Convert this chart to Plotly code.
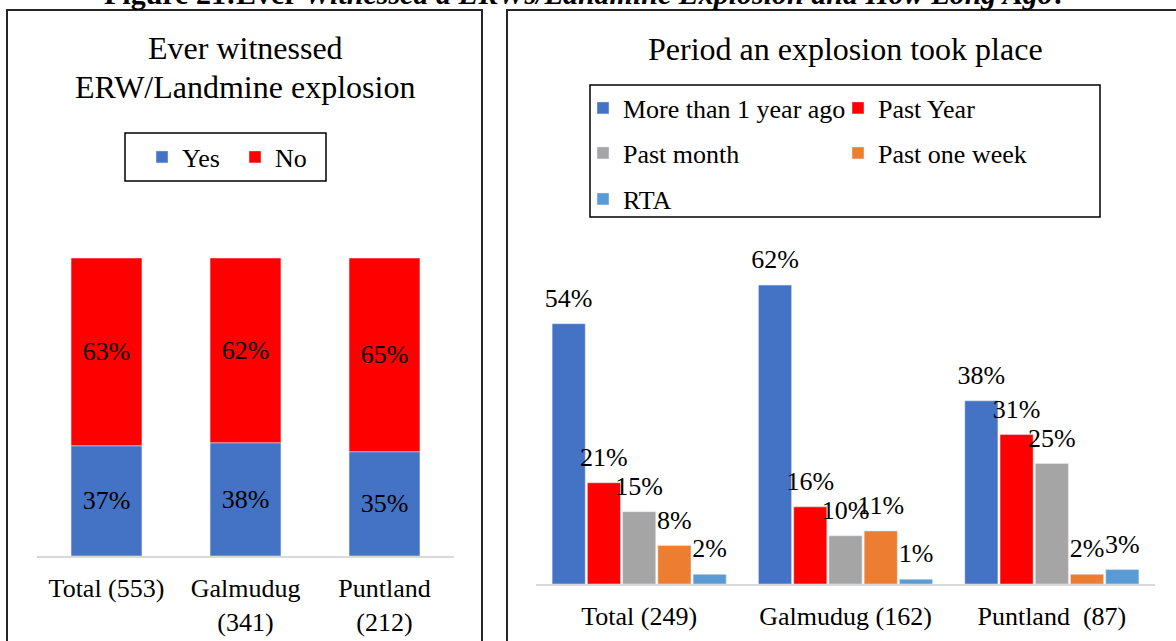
import plotly.graph_objects as go

FONT = "Liberation Serif"

# ---- data ----
left_categories = ["Total (553)", "Galmudug<br>(341)", "Puntland<br>(212)"]
yes_pct = [37, 38, 35]
no_pct = [63, 62, 65]

right_categories = ["Total (249)", "Galmudug (162)", "Puntland\u00a0 (87)"]
more_than_1_year = [54, 62, 38]
past_year = [21, 16, 31]
past_month = [15, 10, 25]
past_one_week = [8, 11, 2]
rta = [2, 1, 3]

right_series = [
    ("More than 1 year ago", more_than_1_year, "#4472C4"),
    ("Past Year", past_year, "#FF0000"),
    ("Past month", past_month, "#A5A5A5"),
    ("Past one week", past_one_week, "#ED7D31"),
    ("RTA", rta, "#5B9BD5"),
]

W, H = 1176, 641


def px(x):
    return x / W


def py(y):
    return 1 - y / H


fig = go.Figure()

# left: stacked yes/no
fig.add_trace(go.Bar(
    x=left_categories, y=yes_pct, name="Yes", marker_color="#4472C4",
    text=[f"{v}%" for v in yes_pct], textposition="inside", insidetextanchor="middle",
    textfont=dict(family=FONT, size=26, color="black"), constraintext="none",
    width=0.51, offset=-0.255, offsetgroup="L", xaxis="x", yaxis="y", legend="legend",
    showlegend=True, hoverinfo="skip",
))
fig.add_trace(go.Bar(
    x=left_categories, y=no_pct, base=yes_pct, name="No", marker_color="#FF0000",
    text=[f"{v}%" for v in no_pct], textposition="inside", insidetextanchor="middle",
    textfont=dict(family=FONT, size=26, color="black"), constraintext="none",
    width=0.51, offset=-0.255, offsetgroup="L", xaxis="x", yaxis="y", legend="legend2",
    showlegend=True, hoverinfo="skip",
))

legend_pos = [(583, 108), (838, 108), (583, 153), (838, 153), (583, 199)]
for i, (name, vals, col) in enumerate(right_series):
    fig.add_trace(go.Bar(
        x=right_categories, y=vals, name=name, marker_color=col,
        offsetgroup=f"b{i}", alignmentgroup="bars",
        xaxis="x2", yaxis="y2", legend=f"legend{i + 3}", showlegend=True, hoverinfo="skip",
    ))
# value labels above the grouped bars
for i, (name, vals, col) in enumerate(right_series):
    fig.add_trace(go.Scatter(
        x=right_categories, y=vals, mode="markers+text", orientation="v",
        offsetgroup=f"s{i}", alignmentgroup="labels", marker=dict(size=15, opacity=0, color=col),
        text=[f"{v}%" for v in vals], textposition="top center",
        textfont=dict(family=FONT, size=26, color="black"), cliponaxis=False,
        xaxis="x2", yaxis="y2", showlegend=False, hoverinfo="skip",
    ))

legends = {}
legends["legend"] = dict(x=px(142), y=py(157))
legends["legend2"] = dict(x=px(235), y=py(157))
for i, (lx, ly) in enumerate(legend_pos):
    legends[f"legend{i + 3}"] = dict(x=px(lx), y=py(ly))
for k, v in legends.items():
    v.update(xanchor="left", yanchor="middle", bgcolor="rgba(0,0,0,0)", borderwidth=0,
             font=dict(family=FONT, size=26, color="black"))

shapes = [
    dict(type="rect", xref="paper", yref="paper", x0=px(7), x1=px(482), y0=py(10), y1=-0.05,
         line=dict(color="#262626", width=2)),
    dict(type="rect", xref="paper", yref="paper", x0=px(507), x1=1.05, y0=py(10), y1=-0.05,
         line=dict(color="#262626", width=2)),
    dict(type="rect", xref="paper", yref="paper", x0=px(125), x1=px(326), y0=py(133), y1=py(181),
         line=dict(color="black", width=1.5)),
    dict(type="rect", xref="paper", yref="paper", x0=px(590), x1=px(1100), y0=py(85), y1=py(217),
         line=dict(color="black", width=1.5)),
]

annotations = [
    dict(text="<b>Figure 21:Ever </b><b><i>Witnessed a ERWs/Landmine Explosion and How Long Ago?</i></b>",
         x=px(586), y=py(-6), xref="paper", yref="paper", xanchor="center", yanchor="middle",
         showarrow=False, font=dict(family=FONT, size=30, color="black")),
    dict(text="Ever witnessed", x=px(245), y=py(48.5), xref="paper", yref="paper",
         xanchor="center", yanchor="middle", showarrow=False, font=dict(family=FONT, size=32, color="black")),
    dict(text="ERW/Landmine explosion", x=px(245), y=py(86.7), xref="paper", yref="paper",
         xanchor="center", yanchor="middle", showarrow=False, font=dict(family=FONT, size=32, color="black")),
    dict(text="Period an explosion took place", x=px(845), y=py(49), xref="paper", yref="paper",
         xanchor="center", yanchor="middle", showarrow=False, font=dict(family=FONT, size=32, color="black")),
]

axis_common = dict(showline=True, linecolor="#D9D9D9", linewidth=1.5, ticks="", showgrid=False,
                   zeroline=False, tickfont=dict(family=FONT, size=26, color="black"),
                   ticklabelstandoff=8, fixedrange=True)

fig.update_layout(
    width=W, height=H, autosize=False,
    margin=dict(l=0, r=0, t=0, b=0),
    paper_bgcolor="white", plot_bgcolor="white",
    barmode="group", bargap=0.146, bargroupgap=0.06,
    scattermode="group", scattergap=0.146,
    showlegend=True,
    xaxis=dict(domain=[px(37), px(454)], anchor="y", **axis_common),
    yaxis=dict(domain=[py(556), py(258)], range=[0, 100], anchor="x", visible=False),
    xaxis2=dict(domain=[px(536), px(1155)], anchor="y2", **axis_common),
    yaxis2=dict(domain=[py(584), py(261)], range=[0, 67], anchor="x2", visible=False),
    shapes=shapes, annotations=annotations,
    font=dict(family=FONT, color="black"),
    **legends,
)

fig.write_html("out.html", config={"displayModeBar": False},
               post_script="document.body.style.margin='0px';")
